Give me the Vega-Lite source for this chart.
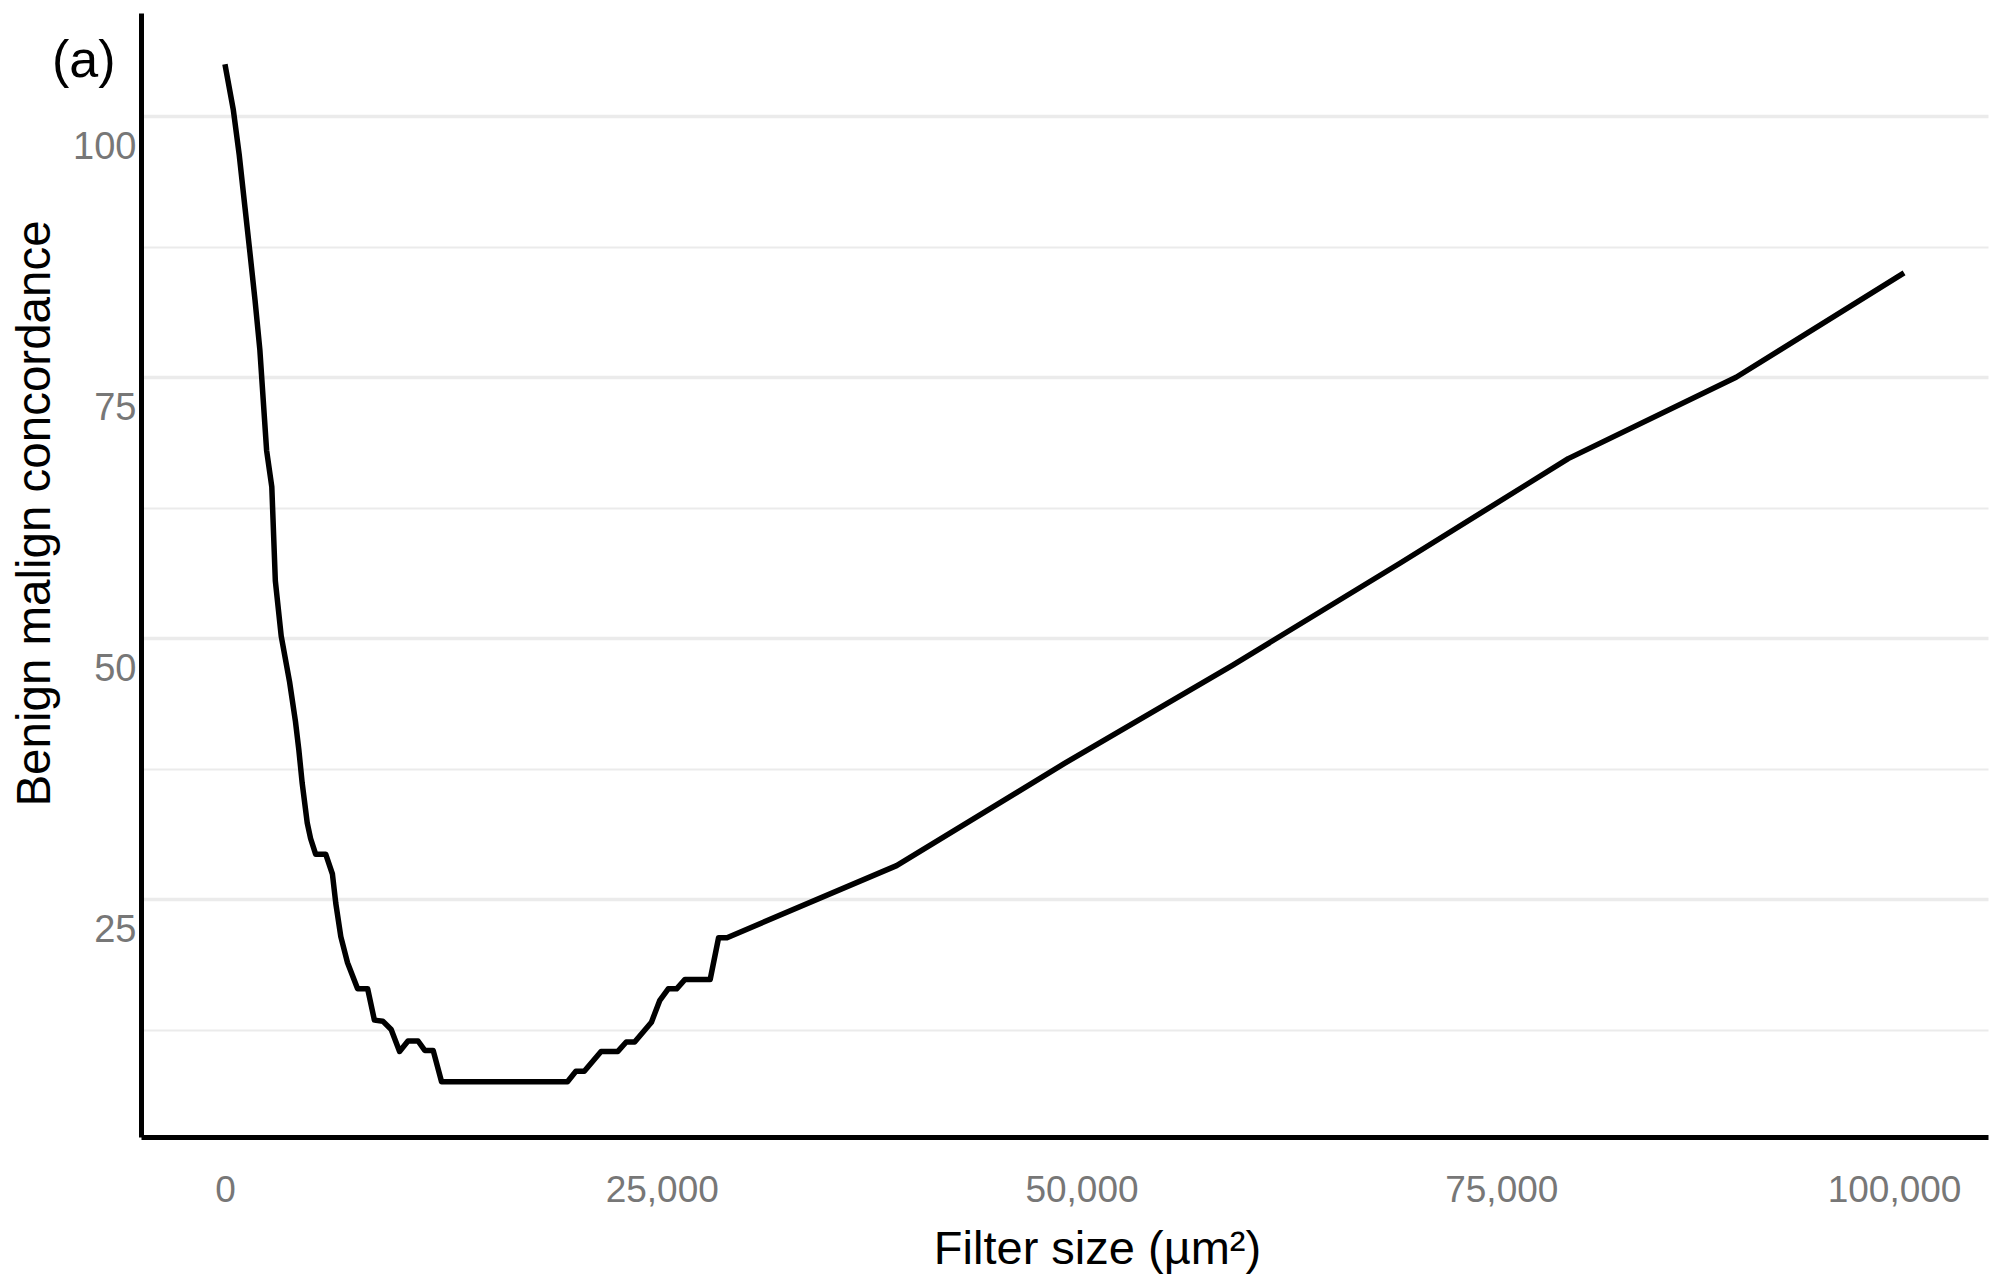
{
  "$schema": "https://vega.github.io/schema/vega-lite/v6.json",
  "width": 1847,
  "height": 1124,
  "autosize": {"type": "none"},
  "padding": {"left": 141, "top": 13, "right": 12, "bottom": 148},
  "background": "white",
  "title": {
    "text": "(a)",
    "anchor": "start",
    "frame": "group",
    "baseline": "top",
    "font": "Liberation Sans",
    "fontSize": 52,
    "fontWeight": "normal",
    "color": "black",
    "dx": -89,
    "dy": 79
  },
  "data": {
    "values": [
      {"filter_size": 0, "concordance": 105.0},
      {"filter_size": 500, "concordance": 100.6},
      {"filter_size": 850, "concordance": 96.3},
      {"filter_size": 1190, "concordance": 91.3},
      {"filter_size": 1490, "concordance": 86.9},
      {"filter_size": 1790, "concordance": 82.4},
      {"filter_size": 2080, "concordance": 77.6},
      {"filter_size": 2480, "concordance": 68.0},
      {"filter_size": 2790, "concordance": 64.5},
      {"filter_size": 3000, "concordance": 55.5},
      {"filter_size": 3350, "concordance": 50.2},
      {"filter_size": 3850, "concordance": 45.8},
      {"filter_size": 4200, "concordance": 42.0},
      {"filter_size": 4400, "concordance": 39.3},
      {"filter_size": 4600, "concordance": 36.1},
      {"filter_size": 4900, "concordance": 32.3},
      {"filter_size": 5100, "concordance": 30.8},
      {"filter_size": 5400, "concordance": 29.3},
      {"filter_size": 6000, "concordance": 29.3},
      {"filter_size": 6400, "concordance": 27.4},
      {"filter_size": 6600, "concordance": 24.6},
      {"filter_size": 6900, "concordance": 21.4},
      {"filter_size": 7300, "concordance": 18.9},
      {"filter_size": 7900, "concordance": 16.4},
      {"filter_size": 8500, "concordance": 16.4},
      {"filter_size": 8900, "concordance": 13.4},
      {"filter_size": 9400, "concordance": 13.3},
      {"filter_size": 9900, "concordance": 12.5},
      {"filter_size": 10400, "concordance": 10.4},
      {"filter_size": 10900, "concordance": 11.4},
      {"filter_size": 11500, "concordance": 11.4},
      {"filter_size": 11900, "concordance": 10.5},
      {"filter_size": 12400, "concordance": 10.5},
      {"filter_size": 12900, "concordance": 7.5},
      {"filter_size": 20400, "concordance": 7.5},
      {"filter_size": 20900, "concordance": 8.5},
      {"filter_size": 21400, "concordance": 8.5},
      {"filter_size": 22400, "concordance": 10.4},
      {"filter_size": 23400, "concordance": 10.4},
      {"filter_size": 23900, "concordance": 11.3},
      {"filter_size": 24400, "concordance": 11.3},
      {"filter_size": 25400, "concordance": 13.2},
      {"filter_size": 25900, "concordance": 15.3},
      {"filter_size": 26400, "concordance": 16.4},
      {"filter_size": 26900, "concordance": 16.4},
      {"filter_size": 27400, "concordance": 17.3},
      {"filter_size": 28900, "concordance": 17.3},
      {"filter_size": 29400, "concordance": 21.3},
      {"filter_size": 29900, "concordance": 21.3},
      {"filter_size": 40000, "concordance": 28.2},
      {"filter_size": 50000, "concordance": 38.0},
      {"filter_size": 60000, "concordance": 47.4},
      {"filter_size": 70000, "concordance": 57.2},
      {"filter_size": 80000, "concordance": 67.2},
      {"filter_size": 90000, "concordance": 75.0},
      {"filter_size": 100000, "concordance": 85.0}
    ]
  },
  "mark": {
    "type": "line",
    "color": "black",
    "strokeWidth": 5.5,
    "strokeJoin": "round",
    "clip": true
  },
  "encoding": {
    "x": {
      "field": "filter_size",
      "type": "quantitative",
      "scale": {"domain": [-5000, 105000], "nice": false, "zero": false},
      "axis": {
        "title": "Filter size (µm²)",
        "values": [0, 25000, 50000, 75000, 100000],
        "format": ",.0f",
        "grid": false,
        "ticks": false,
        "domain": true,
        "domainColor": "black",
        "domainWidth": 5,
        "labelFont": "Liberation Sans",
        "labelFontSize": 37,
        "labelColor": "#777777",
        "labelPadding": 35,
        "labelOffset": {
          "condition": [
            {"test": "datum.value >= 100000", "value": -10},
            {"test": "datum.value > 0", "value": 17}
          ],
          "value": 0
        },
        "titleFont": "Liberation Sans",
        "titleFontSize": 47,
        "titleFontWeight": "normal",
        "titleColor": "black",
        "titleAlign": "center",
        "titleBaseline": "alphabetic",
        "titleX": 956,
        "titleY": 126
      }
    },
    "y": {
      "field": "concordance",
      "type": "quantitative",
      "scale": {"domain": [2.2, 109.9], "nice": false, "zero": false},
      "axis": {
        "title": "Benign malign concordance",
        "values": [12.5, 25, 37.5, 50, 62.5, 75, 87.5, 100],
        "labelExpr": "datum.value % 25 === 0 ? datum.label : ''",
        "grid": true,
        "gridColor": "#ebebeb",
        "gridWidth": {"condition": {"test": "datum.value % 25 === 0", "value": 3.4}, "value": 2},
        "ticks": false,
        "domain": true,
        "domainColor": "black",
        "domainWidth": 5,
        "labelFont": "Liberation Sans",
        "labelFontSize": 38,
        "labelColor": "#777777",
        "labelPadding": 5,
        "labelOffset": 31,
        "titleFont": "Liberation Sans",
        "titleFontSize": 47.5,
        "titleFontWeight": "normal",
        "titleColor": "black",
        "titleAngle": -90,
        "titleAlign": "center",
        "titleBaseline": "middle",
        "titleX": -106,
        "titleY": 500
      }
    }
  },
  "config": {
    "view": {"stroke": null},
    "font": "Liberation Sans"
  }
}
